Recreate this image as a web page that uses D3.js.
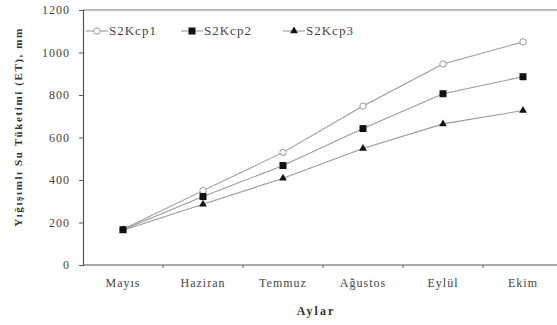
<!DOCTYPE html>
<html lang="tr">
<head>
<meta charset="UTF-8">
<title>Yığışımlı Su Tüketimi</title>
<script src="https://d3js.org/d3.v7.min.js"></script>
<style>
  body { margin: 0; background: #fff; }
  svg text { font-family: "Liberation Serif", "DejaVu Serif", serif; }
  .axis path, .axis line { stroke: #555; }
  .axis text { fill: #444; font-size: 12px; letter-spacing: 1px; }
</style>
</head>
<body>
<svg width="557" height="325"></svg>
<script>
// data
const months = ["Mayıs", "Haziran", "Temmuz", "Ağustos", "Eylül", "Ekim"];
const s2kcp1 = [168, 350, 530, 748, 946, 1050];
const s2kcp2 = [166, 322, 468, 642, 806, 886];
const s2kcp3 = [164, 286, 408, 548, 664, 727];
const seriesNames = ["S2Kcp1", "S2Kcp2", "S2Kcp3"];
const yTicks = [0, 200, 400, 600, 800, 1000, 1200];

const series = [s2kcp1, s2kcp2, s2kcp3].map((v, i) => ({ name: seriesNames[i], values: v }));

const svg = d3.select("svg");
const plotLeft = 83, plotRight = 563, plotTop = 10, plotBottom = 265;

const x = d3.scaleBand().domain(months).range([plotLeft, plotRight]);
const y = d3.scaleLinear().domain([0, 1200]).range([plotBottom, plotTop]);

// top frame line
svg.append("line")
    .attr("x1", plotLeft).attr("x2", 557)
    .attr("y1", plotTop).attr("y2", plotTop)
    .attr("stroke", "#777").attr("stroke-width", 1);

// y axis
svg.append("g")
    .attr("class", "axis")
    .attr("transform", `translate(${plotLeft},0)`)
    .call(d3.axisLeft(y).tickValues(yTicks).tickFormat(d3.format("d")).tickSize(4).tickPadding(9))
    .call(g => g.select(".domain").attr("stroke-width", 1.2))
    .call(g => g.selectAll("text").attr("font-family", null));

// x axis, ticks at band edges
const xAxis = svg.append("g")
    .attr("class", "axis")
    .attr("transform", `translate(0,${plotBottom})`);
xAxis.append("line")
    .attr("x1", plotLeft).attr("x2", 557)
    .attr("stroke", "#555").attr("stroke-width", 1.2);
xAxis.selectAll(".tk")
    .data(months.slice(1))
    .enter().append("line")
    .attr("x1", d => x(d)).attr("x2", d => x(d))
    .attr("y1", 0).attr("y2", 3)
    .attr("stroke", "#555");
xAxis.selectAll(".lbl")
    .data(months)
    .enter().append("text")
    .attr("x", d => x(d) + x.bandwidth() / 2)
    .attr("y", 22)
    .attr("text-anchor", "middle")
    .text(d => d);

// axis titles
svg.append("text")
    .attr("x", 316).attr("y", 315)
    .attr("text-anchor", "middle")
    .attr("font-size", 12).attr("font-weight", "bold").attr("fill", "#333")
    .attr("letter-spacing", 2)
    .text("Aylar");

svg.append("text")
    .attr("transform", "translate(22,127) rotate(-90)")
    .attr("text-anchor", "middle")
    .attr("font-size", 11).attr("font-weight", "bold").attr("fill", "#333")
    .attr("letter-spacing", 1.6)
    .text("Yığışımlı Su Tüketimi (ET), mm");

// lines
const line = d3.line()
    .x((d, i) => x(months[i]) + x.bandwidth() / 2)
    .y(d => y(d));

svg.append("g")
    .selectAll("path")
    .data(series)
    .enter().append("path")
    .attr("d", d => line(d.values))
    .attr("fill", "none")
    .attr("stroke", "#999")
    .attr("stroke-width", 1.1);

// markers
function drawMarker(g, i) {
    if (i === 0) {
        g.append("circle").attr("r", 3.2)
            .attr("fill", "#fff").attr("stroke", "#999").attr("stroke-width", 1);
    } else if (i === 1) {
        g.append("rect").attr("x", -3.5).attr("y", -3.5)
            .attr("width", 7).attr("height", 7).attr("fill", "#111");
    } else {
        g.append("path").attr("d", d3.symbol(d3.symbolTriangle, 26)()).attr("fill", "#111");
    }
}

series.forEach((s, i) => {
    s.values.forEach((v, j) => {
        const g = svg.append("g")
            .attr("transform", `translate(${x(months[j]) + x.bandwidth() / 2},${y(v)})`);
        drawMarker(g, i);
    });
});

// legend
const legendX = [86, 181, 283];
const legend = svg.append("g");
series.forEach((s, i) => {
    const g = legend.append("g").attr("transform", `translate(${legendX[i]},31)`);
    g.append("line").attr("x1", 0).attr("x2", 22)
        .attr("stroke", "#999").attr("stroke-width", 1.1);
    const m = g.append("g").attr("transform", "translate(11,0)");
    drawMarker(m, i);
    g.append("text")
        .attr("x", 23).attr("y", 4)
        .attr("font-size", 13).attr("fill", "#444")
        .attr("letter-spacing", 1)
        .text(s.name);
});
</script>
</body>
</html>
